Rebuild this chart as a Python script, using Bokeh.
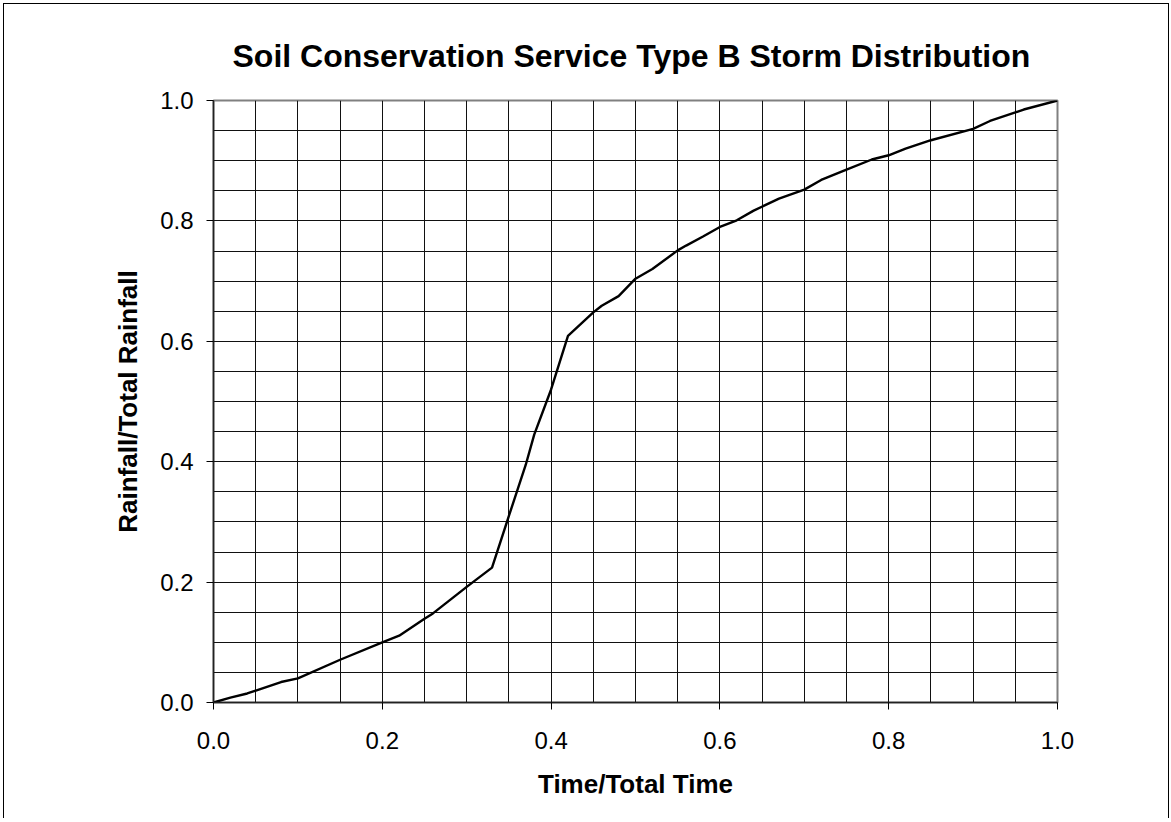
import numpy as np
from bokeh.plotting import figure
from bokeh.models import FixedTicker, Range1d, CustomJSTickFormatter
from bokeh.embed import file_html
from bokeh.resources import INLINE

# Data (cumulative fraction of rainfall vs fraction of storm time)
time_frac = [0.0, 0.02, 0.04, 0.08, 0.10, 0.15, 0.20, 0.22, 0.25, 0.26, 0.30, 0.33,
             0.35, 0.37, 0.38, 0.40, 0.42, 0.45, 0.46, 0.48, 0.50, 0.52, 0.55, 0.56,
             0.58, 0.60, 0.62, 0.64, 0.67, 0.70, 0.72, 0.75, 0.78, 0.80, 0.82, 0.85,
             0.90, 0.92, 0.96, 1.0]
rain_frac = [0.0, 0.008, 0.015, 0.034, 0.040, 0.071, 0.100, 0.111, 0.139, 0.148, 0.192, 0.224,
             0.310, 0.395, 0.445, 0.520, 0.609, 0.648, 0.659, 0.675, 0.704, 0.720, 0.751, 0.759,
             0.774, 0.790, 0.801, 0.817, 0.837, 0.852, 0.868, 0.885, 0.902, 0.909, 0.920, 0.934,
             0.953, 0.966, 0.985, 1.0]

title_text = "Soil Conservation Service Type B Storm Distribution"
x_label = "Time/Total Time"
y_label = "Rainfall/Total Rainfall"
label_ticks = [0.0, 0.2, 0.4, 0.6, 0.8, 1.0]

FONT = "Liberation Sans"

p = figure(frame_width=844, frame_height=602,
           min_border_left=209, min_border_top=96, min_border_right=111, min_border_bottom=116,
           x_range=Range1d(0, 1), y_range=Range1d(0, 1),
           output_backend="svg", toolbar_location=None, tools="")

p.styles = {"border": "1px solid #000000", "border-bottom": "none",
            "margin-left": "3px", "margin-top": "3px"}

p.title.text = title_text
p.title.align = "left"
p.title.offset = 19
p.title.standoff = 54
p.title.text_font = FONT
p.title.text_font_size = "32px"
p.title.text_font_style = "bold"
p.title.text_color = "black"

p.line(time_frac, rain_frac, line_color="black", line_width=2.4)

grid_ticks = [round(v, 2) for v in np.arange(0, 1.0001, 0.05)]
p.xgrid.ticker = FixedTicker(ticks=grid_ticks)
p.ygrid.ticker = FixedTicker(ticks=grid_ticks)
for g in (p.xgrid, p.ygrid):
    g.grid_line_color = "#111111"
    g.grid_line_width = 1
    g.grid_line_alpha = 1

p.outline_line_color = "#808080"
p.outline_line_width = 2

fmt = CustomJSTickFormatter(code="return tick.toFixed(1);")
for ax in (p.xaxis, p.yaxis):
    ax.ticker = FixedTicker(ticks=label_ticks)
    ax.formatter = fmt
    ax.minor_tick_line_color = None
    ax.major_tick_in = 0
    ax.major_tick_out = 7
    ax.major_tick_line_color = "black"
    ax.axis_line_color = "#222222"
    ax.axis_line_width = 1.5
    ax.major_label_text_font = FONT
    ax.major_label_text_font_size = "24px"
    ax.major_label_text_color = "black"
    ax.axis_label_text_font = FONT
    ax.axis_label_text_font_size = "26px"
    ax.axis_label_text_font_style = "bold"
    ax.axis_label_text_color = "black"

p.xaxis.axis_label = x_label
p.yaxis.axis_label = y_label
p.xaxis.major_label_standoff = 22
p.yaxis.major_label_standoff = 13
p.xaxis.axis_label_standoff = 17
p.yaxis.axis_label_standoff = 14

open("out.html", "w").write(file_html(p, INLINE))
